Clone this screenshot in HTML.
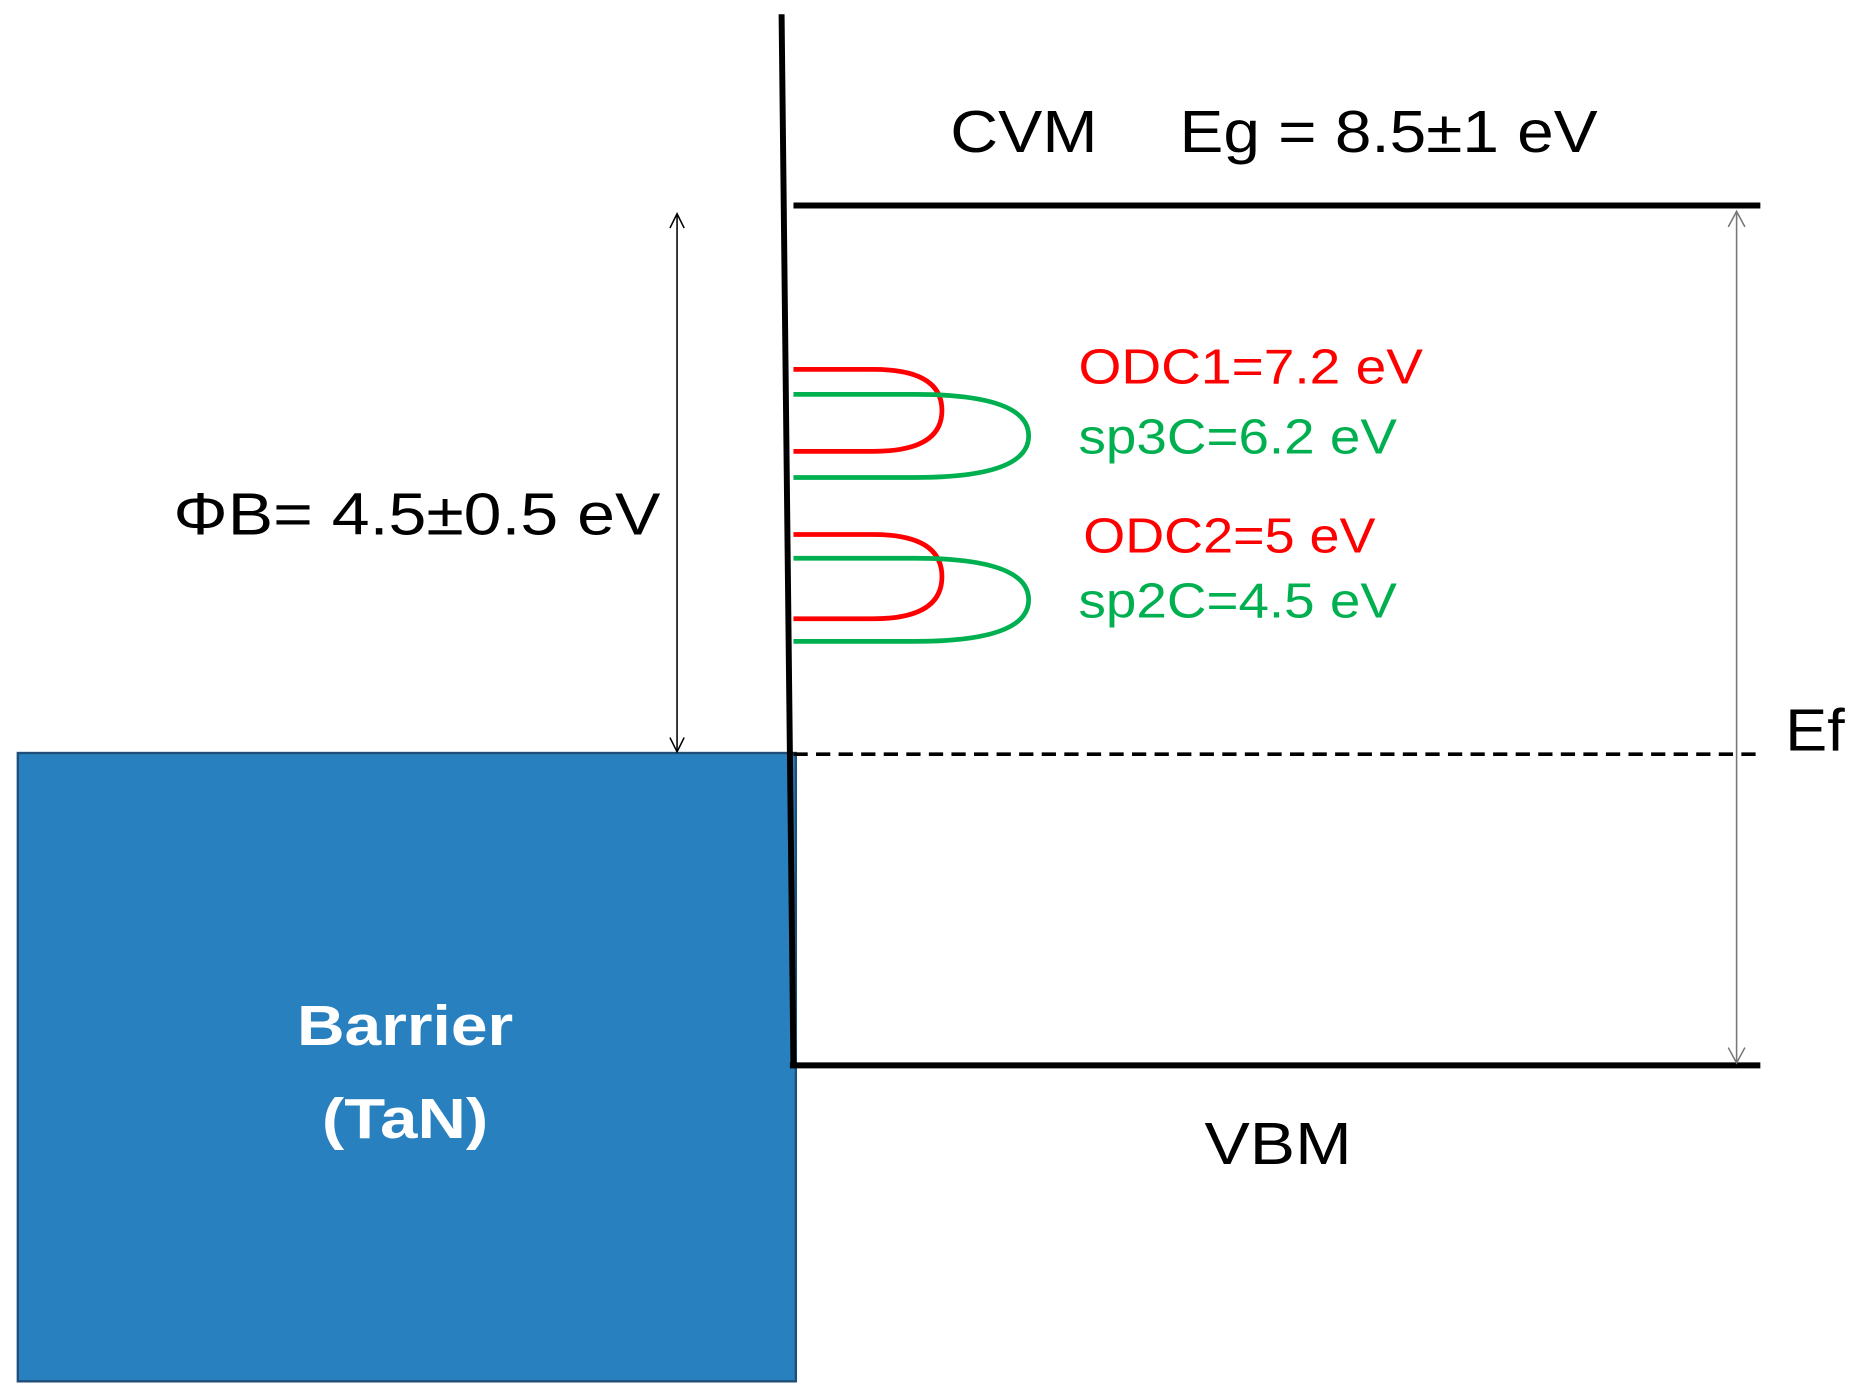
<!DOCTYPE html>
<html><head><meta charset="utf-8"><style>html,body{margin:0;padding:0;background:#fff}svg{display:block}</style></head>
<body>
<svg width="1853" height="1392" viewBox="0 0 1560 1172" preserveAspectRatio="none" xmlns="http://www.w3.org/2000/svg" font-family="Liberation Sans, sans-serif">
<rect x="15" y="634" width="655" height="529" fill="#2980BF" stroke="#1f4f78" stroke-width="2"/>
<line x1="658" y1="12" x2="665" y2="635" stroke="#000" stroke-width="5"/>
<line x1="665" y1="633" x2="668" y2="899" stroke="#000" stroke-width="5"/>
<line x1="668" y1="173" x2="1482" y2="173" stroke="#000" stroke-width="5"/>
<line x1="665" y1="897" x2="1482" y2="897" stroke="#000" stroke-width="5"/>
<line x1="668" y1="635" x2="1482" y2="635" stroke="#000" stroke-width="3" stroke-dasharray="12,7"/>
<g stroke="#000" stroke-width="1.3" fill="none">
<line x1="570" y1="180" x2="570" y2="633"/>
<polyline points="564,192 570,180 576,192"/><polyline points="564,621 570,633 576,621"/>
</g>
<g stroke="#777" stroke-width="1.3" fill="none">
<line x1="1462" y1="178" x2="1462" y2="895"/>
<polyline points="1455,191 1462,178 1469,191"/><polyline points="1455,882 1462,895 1469,882"/>
</g>
<g fill="none" stroke-width="4">
<path d="M668,311 H735 Q793,311 793,345.5 Q793,380 735,380 H668" stroke="#ff0000"/>
<path d="M668,332 H770 Q866,332 866,367 Q866,402 770,402 H668" stroke="#00b050"/>
<path d="M668,450 H735 Q793,450 793,485.5 Q793,521 735,521 H668" stroke="#ff0000"/>
<path d="M668,470 H770 Q866,470 866,505 Q866,540 770,540 H668" stroke="#00b050"/>
</g>
<g font-size="50" fill="#000">
<text x="800" y="128" textLength="124" lengthAdjust="spacingAndGlyphs">CVM</text>
<text x="993" y="128" textLength="352" lengthAdjust="spacingAndGlyphs">Eg = 8.5±1 eV</text>
<text x="146" y="450" textLength="410" lengthAdjust="spacingAndGlyphs">ΦB= 4.5±0.5 eV</text>
<text x="1503" y="632" textLength="50" lengthAdjust="spacingAndGlyphs">Ef</text>
<text x="1014" y="980" textLength="124" lengthAdjust="spacingAndGlyphs">VBM</text>
</g>
<g font-size="41">
<text x="908" y="323" fill="#ff0000" textLength="290" lengthAdjust="spacingAndGlyphs">ODC1=7.2 eV</text>
<text x="908" y="382" fill="#00b050" textLength="268" lengthAdjust="spacingAndGlyphs">sp3C=6.2 eV</text>
<text x="912" y="465" fill="#ff0000" textLength="246" lengthAdjust="spacingAndGlyphs">ODC2=5 eV</text>
<text x="908" y="520" fill="#00b050" textLength="268" lengthAdjust="spacingAndGlyphs">sp2C=4.5 eV</text>
</g>
<g font-size="48" font-weight="bold" fill="#fff" text-anchor="middle">
<text x="341" y="880" textLength="182" lengthAdjust="spacingAndGlyphs">Barrier</text>
<text x="341" y="958" textLength="140" lengthAdjust="spacingAndGlyphs">(TaN)</text>
</g>
</svg>
</body></html>
